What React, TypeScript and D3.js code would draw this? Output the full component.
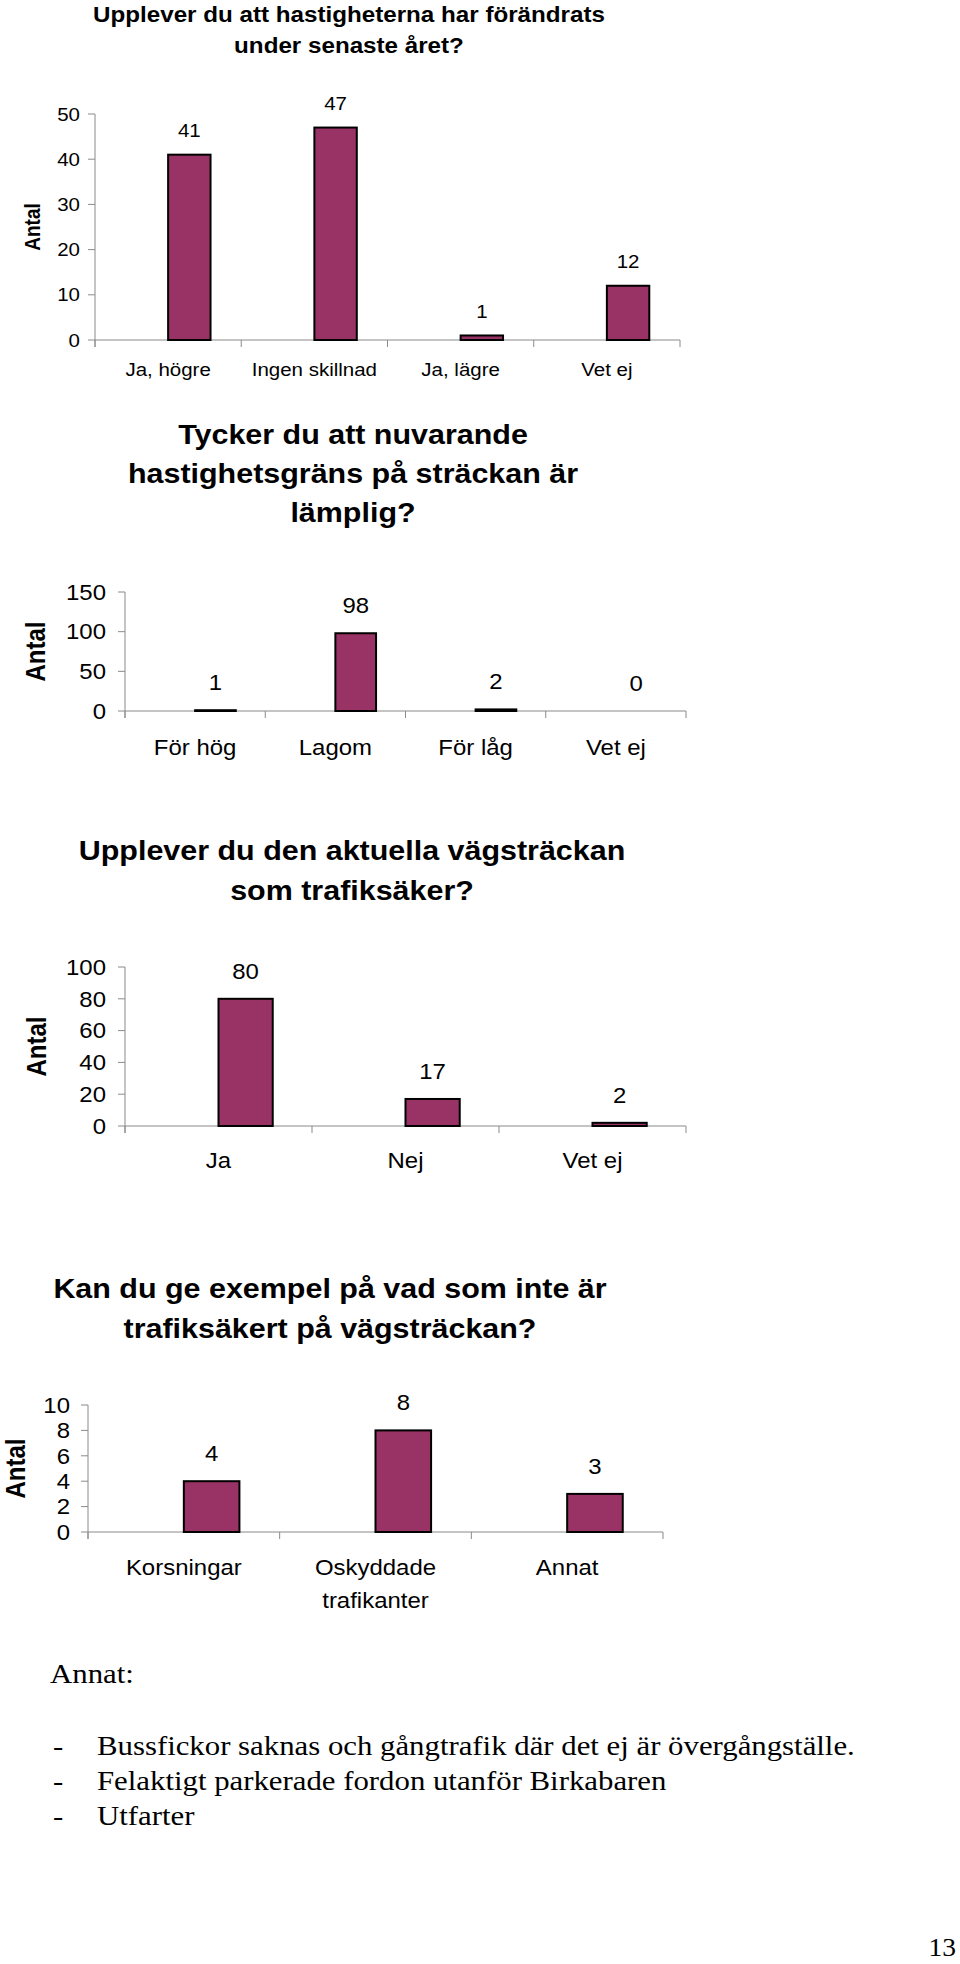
import React from "react";
import * as d3 from "d3";

// ---------- data ----------
const q1Title = ["Upplever du att hastigheterna har förändrats", "under senaste året?"];
const q1Categories = ["Ja, högre", "Ingen skillnad", "Ja, lägre", "Vet ej"];
const q1Values = [41, 47, 1, 12];
const q1Ticks = [0, 10, 20, 30, 40, 50];

const q2Title = ["Tycker du att nuvarande", "hastighetsgräns på sträckan är", "lämplig?"];
const q2Categories = ["För hög", "Lagom", "För låg", "Vet ej"];
const q2Values = [1, 98, 2, 0];
const q2Ticks = [0, 50, 100, 150];

const q3Title = ["Upplever du den aktuella vägsträckan", "som trafiksäker?"];
const q3Categories = ["Ja", "Nej", "Vet ej"];
const q3Values = [80, 17, 2];
const q3Ticks = [0, 20, 40, 60, 80, 100];

const q4Title = ["Kan du ge exempel på vad som inte är", "trafiksäkert på vägsträckan?"];
const q4Categories = ["Korsningar", "Oskyddade\ntrafikanter", "Annat"];
const q4Values = [4, 8, 3];
const q4Ticks = [0, 2, 4, 6, 8, 10];

const yAxisTitle = "Antal";
const notesHeading = "Annat:";
const notesLines = [
  "Bussfickor saknas och gångtrafik där det ej är övergångställe.",
  "Felaktigt parkerade fordon utanför Birkabaren",
  "Utfarter",
];
const pageNumber = "13";

// ---------- styles ----------
const SANS = "'Liberation Sans', Arial, Helvetica, sans-serif";
const SERIF = "'Liberation Serif', 'Times New Roman', serif";
const SX = 1.12;
const BAR_FILL = "#993366";
const AXIS = "#8a8a8a";

type TProps = {
  x: number;
  y: number;
  size: number;
  anchor?: "start" | "middle" | "end";
  weight?: string | number;
  family?: string;
  rotate?: boolean;
  dy?: string;
  sx?: number;
  children: React.ReactNode;
};

function SText({ x, y, size, anchor = "start", weight = "normal", family = SANS, rotate = false, dy, sx = SX, children }: TProps) {
  const t = rotate
    ? `translate(${x},${y}) scale(${sx},1) rotate(-90)`
    : `translate(${x},${y}) scale(${sx},1)`;
  return (
    <text transform={t} textAnchor={anchor} fontSize={size} fontWeight={weight} fontFamily={family} dy={dy} fill="#000">
      {children}
    </text>
  );
}

type ChartProps = {
  title: string[];
  titleX: number;
  titleBaselines: number[];
  titleSize: number;
  categories: string[];
  values: number[];
  ticks: number[];
  x0: number;
  x1: number;
  yTop: number;
  yBottom: number;
  labelSize: number;
  catBaseline: number;
  catLineHeight?: number;
  tickLabelGap: number;
  valueGap: number;
  antalX: number;
  antalSize: number;
};

function BarChart(p: ChartProps) {
  const x = d3.scaleBand<string>().domain(p.categories).range([p.x0, p.x1]).paddingInner(0).paddingOuter(0);
  const yMax = d3.max(p.ticks) as number;
  const y = d3.scaleLinear().domain([0, yMax]).range([p.yBottom, p.yTop]);
  const bw = x.bandwidth();
  const barW = bw * 0.29;
  const tickLen = 7;
  const boundaries = p.categories.map((c) => x(c) as number).concat([p.x1]);

  return (
    <g>
      {p.title.map((line, i) => (
        <SText key={i} x={p.titleX} y={p.titleBaselines[i]} size={p.titleSize} anchor="middle" weight="bold">
          {line}
        </SText>
      ))}

      {/* y axis */}
      <line x1={p.x0} x2={p.x0} y1={y(yMax)} y2={p.yBottom + tickLen} stroke={AXIS} strokeWidth={1} />
      {p.ticks.map((t) => (
        <g key={t}>
          <line x1={p.x0 - tickLen} x2={p.x0} y1={y(t)} y2={y(t)} stroke={AXIS} strokeWidth={1} />
          <SText x={p.x0 - p.tickLabelGap} y={y(t)} size={p.labelSize} anchor="end" dy="0.36em">
            {t}
          </SText>
        </g>
      ))}

      {/* x axis */}
      <line x1={p.x0} x2={p.x1} y1={p.yBottom} y2={p.yBottom} stroke={AXIS} strokeWidth={1} />
      {boundaries.map((bx, i) => (
        <line key={i} x1={bx} x2={bx} y1={p.yBottom} y2={p.yBottom + tickLen} stroke={AXIS} strokeWidth={1} />
      ))}

      {/* bars */}
      {p.categories.map((c, i) => {
        const cx = (x(c) as number) + bw / 2;
        const v = p.values[i];
        const top = y(v);
        return (
          <g key={c}>
            {v > 0 && (
              <rect x={cx} y={top} width={barW} height={p.yBottom - top} fill={BAR_FILL} stroke="#000" strokeWidth={2} />
            )}
            <SText x={cx + barW / 2} y={top - p.valueGap} size={p.labelSize} anchor="middle">
              {v}
            </SText>
            {c.split("\n").map((ln, j) => (
              <SText key={j} x={cx} y={p.catBaseline + j * (p.catLineHeight || 0)} size={p.labelSize} anchor="middle">
                {ln}
              </SText>
            ))}
          </g>
        );
      })}

      {/* axis title */}
      <SText x={p.antalX} y={(p.yTop + p.yBottom) / 2} size={p.antalSize} anchor="middle" weight="bold" rotate dy="0.36em">
        {yAxisTitle}
      </SText>
    </g>
  );
}

export default function App() {
  return (
    <svg
      width={960}
      height={1964}
      viewBox="0 0 960 1964"
      style={{ position: "absolute", left: 0, top: 0, display: "block", background: "#fff" }}
    >
      <rect x={0} y={0} width={960} height={1964} fill="#fff" />

      <BarChart
        title={q1Title}
        titleX={349}
        titleBaselines={[22, 53]}
        titleSize={21.6}
        categories={q1Categories}
        values={q1Values}
        ticks={q1Ticks}
        x0={95}
        x1={680}
        yTop={114}
        yBottom={340}
        labelSize={18.3}
        catBaseline={376}
        tickLabelGap={15}
        valueGap={17.5}
        antalX={32}
        antalSize={19}
      />

      <BarChart
        title={q2Title}
        titleX={353}
        titleBaselines={[444, 483, 522]}
        titleSize={27.2}
        categories={q2Categories}
        values={q2Values}
        ticks={q2Ticks}
        x0={125}
        x1={686}
        yTop={592}
        yBottom={711}
        labelSize={21.4}
        catBaseline={755}
        tickLabelGap={19}
        valueGap={20}
        antalX={35}
        antalSize={24}
      />

      <BarChart
        title={q3Title}
        titleX={352}
        titleBaselines={[860, 900]}
        titleSize={27.2}
        categories={q3Categories}
        values={q3Values}
        ticks={q3Ticks}
        x0={125}
        x1={686}
        yTop={967}
        yBottom={1126}
        labelSize={21.4}
        catBaseline={1168}
        tickLabelGap={19}
        valueGap={20}
        antalX={36}
        antalSize={24}
      />

      <BarChart
        title={q4Title}
        titleX={330}
        titleBaselines={[1298, 1338]}
        titleSize={27.2}
        categories={q4Categories}
        values={q4Values}
        ticks={q4Ticks}
        x0={88}
        x1={663}
        yTop={1405}
        yBottom={1532}
        labelSize={21.4}
        catBaseline={1575}
        catLineHeight={33}
        tickLabelGap={18}
        valueGap={20}
        antalX={15}
        antalSize={24}
      />

      {/* notes */}
      <SText x={50} y={1683} size={28} family={SERIF} sx={1.1}>
        {notesHeading}
      </SText>
      {notesLines.map((ln, i) => (
        <g key={i}>
          <SText x={53} y={1755 + i * 35} size={28} family={SERIF} sx={1.1}>
            -
          </SText>
          <SText x={97} y={1755 + i * 35} size={28} family={SERIF} sx={1.1}>
            {ln}
          </SText>
        </g>
      ))}
      <SText x={956} y={1956} size={25} family={SERIF} anchor="end" sx={1.1}>
        {pageNumber}
      </SText>
    </svg>
  );
}
